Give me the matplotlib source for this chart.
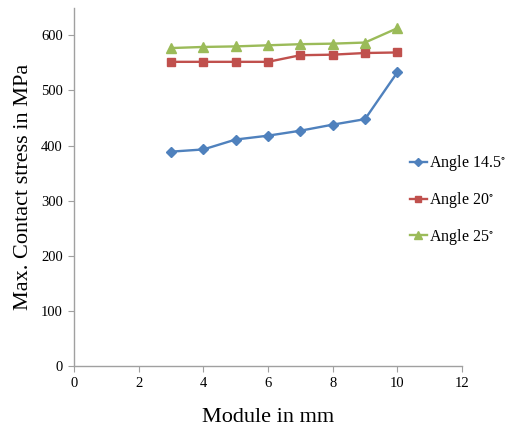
import numpy as np
import matplotlib
matplotlib.use("Agg")
from matplotlib import pyplot as plt

plt.rcParams['font.family'] = ['Liberation Serif', 'DejaVu Serif']
plt.rcParams['mathtext.fontset'] = 'stix'

# data
module = [3, 4, 5, 6, 7, 8, 9, 10]
angle_14_5 = [389, 393, 411, 418, 427, 438, 448, 533]
angle_20 = [552, 552, 552, 552, 564, 565, 568, 569]
angle_25 = [577, 579, 580, 582, 584, 585, 587, 613]

x_ticks = [0, 2, 4, 6, 8, 10, 12]
y_ticks = [0, 100, 200, 300, 400, 500, 600]

fig = plt.figure(figsize=(5.09, 4.30), dpi=100)
axes = fig.add_axes([0.1454, 0.1488, 0.7623, 0.833])

axes.plot(module, angle_14_5, color='#4F81BD', lw=1.7, marker='D', ms=5.5,
          label='Angle 14.5$^{\\circ}$')
axes.plot(module, angle_20, color='#C0504D', lw=1.7, marker='s', ms=6,
          label='Angle 20$^{\\circ}$')
axes.plot(module, angle_25, color='#9BBB59', lw=1.7, marker='^', ms=6.5,
          label='Angle 25$^{\\circ}$')

axes.set_xlim(0, 12)
axes.set_ylim(0, 650)
axes.set_xticks(x_ticks)
axes.set_yticks(y_ticks)
for s in ('top', 'right'):
    axes.spines[s].set_visible(False)
for s in ('left', 'bottom'):
    axes.spines[s].set_color('#A0A0A0')
    axes.spines[s].set_linewidth(1.0)
axes.tick_params(axis='both', direction='out', length=4, color='#A0A0A0',
                 labelsize=10.5, pad=4)

axes.set_xlabel('Module in mm', fontsize=16, labelpad=13)
axes.set_ylabel('Max. Contact stress in MPa', fontsize=16, labelpad=6)

fig.legend(loc='upper left', bbox_to_anchor=(0.792, 0.658), frameon=False,
           fontsize=11.5, handlelength=1.1, handletextpad=0.15, labelspacing=1.05,
           borderaxespad=0, markerscale=0.8)

fig.savefig("out.png", dpi=100)
